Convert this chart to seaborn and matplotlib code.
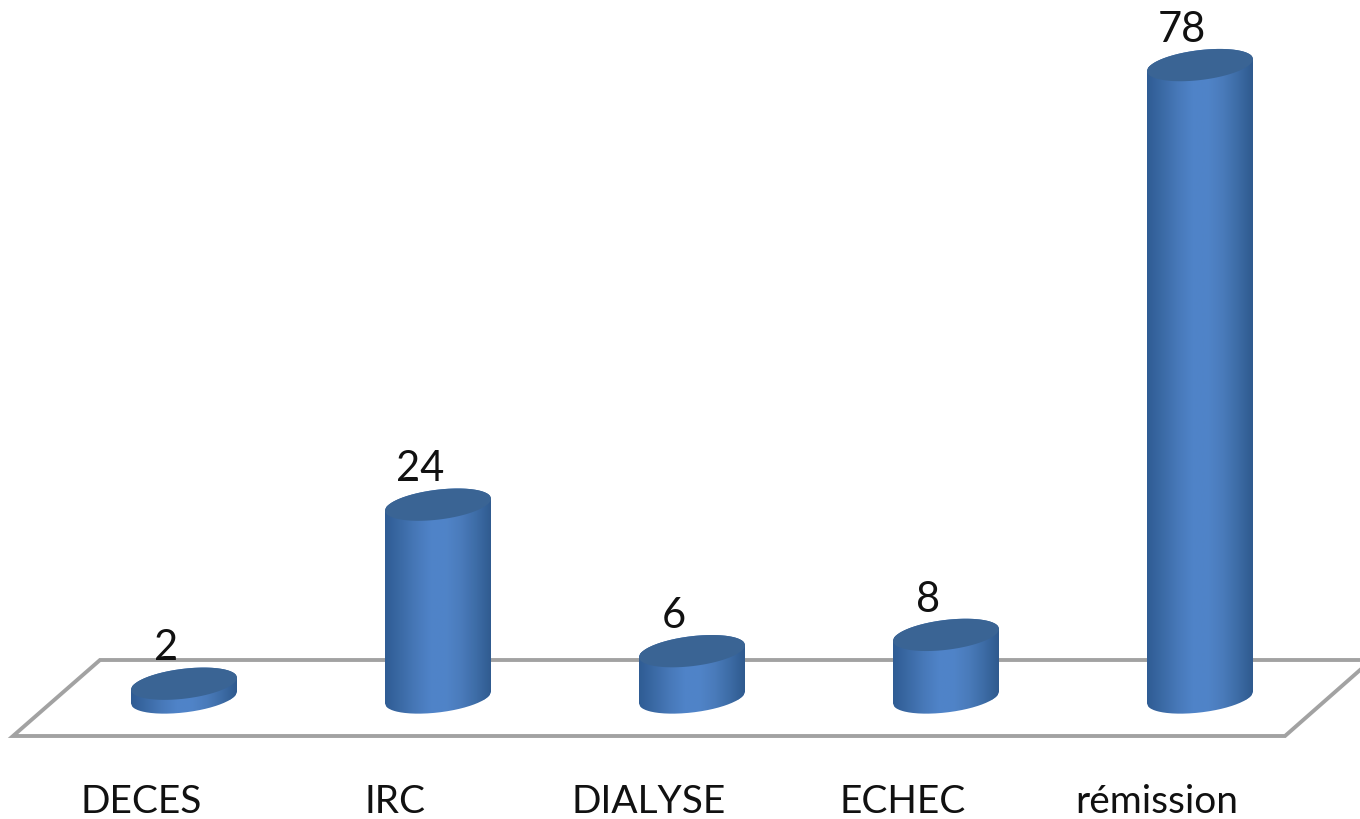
import numpy as np
import pandas as pd
import matplotlib
matplotlib.use("Agg")
import matplotlib.pyplot as plt
from matplotlib.path import Path
from matplotlib.colors import LinearSegmentedColormap
from matplotlib.patches import PathPatch
import seaborn as sns

categories = ["DECES", "IRC", "DIALYSE", "ECHEC", "rémission"]
values = [2, 24, 6, 8, 78]

sns.set_theme(style="white")
plt.rcParams["font.family"] = ["Lato", "DejaVu Sans"]

W, H = 1360, 820
AX_BOTTOM = 745
BASE_Y = 701
PX_PER_UNIT = 8.14
STEP = 254
FIRST_X = 184

fig = plt.figure(figsize=(W / 100, H / 100), dpi=100, facecolor="white")
ax = fig.add_axes([0, (H - AX_BOTTOM) / H, 1, AX_BOTTOM / H])

df = pd.DataFrame({"category": categories, "value": values})
sns.barplot(data=df, x="category", y="value", ax=ax, width=106 / STEP,
            color="#4A7DBE", saturation=1, errorbar=None)

ax.set_xlim(-FIRST_X / STEP, (W - FIRST_X) / STEP)
ax.set_ylim((BASE_Y - AX_BOTTOM) / PX_PER_UNIT, BASE_Y / PX_PER_UNIT)
sns.despine(ax=ax, left=True, bottom=True)
ax.set_xlabel("")
ax.set_ylabel("")
ax.set_yticks([])


def px_x(p):
    return (p - FIRST_X) / STEP


def px_y(p):
    return (BASE_Y - p) / PX_PER_UNIT


# Perspective floor under the columns
floor_x = [1368, 100, 13, 1285, 1368]
floor_y = [661, 661, 737, 737, 664]
ax.plot([px_x(p) for p in floor_x], [px_y(p) for p in floor_y], color="#A2A2A2",
        lw=2.8, solid_joinstyle="miter", zorder=1)

body_cmap = LinearSegmentedColormap.from_list(
    "column", ["#2F5C94", "#3B6AA5", "#4778B8", "#4F83C8", "#5084C8", "#4A7BBB", "#3D6CA6", "#2F5A8E"])
TOP_COLOR = "#3A6494"
TILT = 6.0 / PX_PER_UNIT
CAP = 15.0 / PX_PER_UNIT
BASE_RISE = 2.5 / PX_PER_UNIT
gradient = np.linspace(0, 1, 256).reshape(1, -1)
theta = np.linspace(0, 2 * np.pi, 121)

for bar, value in zip(ax.patches, values):
    x0, w = bar.get_x(), bar.get_width()
    cx, half = x0 + w / 2, w / 2
    u = np.linspace(-1, 1, 81)

    # Outline of the column: lower rim of the base, then upper rim of the top
    lower = BASE_RISE + TILT * u - CAP * np.sqrt(1 - u ** 2)
    upper = value + TILT * u[::-1] + CAP * np.sqrt(1 - u[::-1] ** 2)
    xs = np.r_[cx + half * u, cx + half * u[::-1]]
    ys = np.r_[lower, upper]
    outline = PathPatch(Path(np.c_[xs, ys]), transform=ax.transData, fc="none", ec="none")
    ax.add_patch(outline)
    bar.set_clip_path(outline)
    bar.set_zorder(2)

    img = ax.imshow(gradient, cmap=body_cmap, aspect="auto", zorder=3, interpolation="bilinear",
                    extent=[x0, x0 + w, -3 * CAP, value + 3 * CAP])
    img.set_clip_path(outline)

    # Top face of the column
    ax.fill(cx + half * np.cos(theta),
            value + TILT * np.cos(theta) + CAP * np.sin(theta),
            color=TOP_COLOR, lw=0, zorder=4)

    ax.annotate(str(value), xy=(cx - 18 / STEP, value), xytext=(0, 17.5), textcoords="offset points",
                ha="center", va="baseline", fontsize=30, color="#111111", zorder=5)

ax.set_xlim(-FIRST_X / STEP, (W - FIRST_X) / STEP)
ax.set_ylim((BASE_Y - AX_BOTTOM) / PX_PER_UNIT, BASE_Y / PX_PER_UNIT)
ax.set_xticks(np.arange(len(categories)) - 43 / STEP)
ax.set_xticklabels(categories, fontsize=28, color="#111111")
ax.tick_params(axis="x", length=0, pad=28)

fig.savefig("out.png", dpi=100, facecolor="white")
